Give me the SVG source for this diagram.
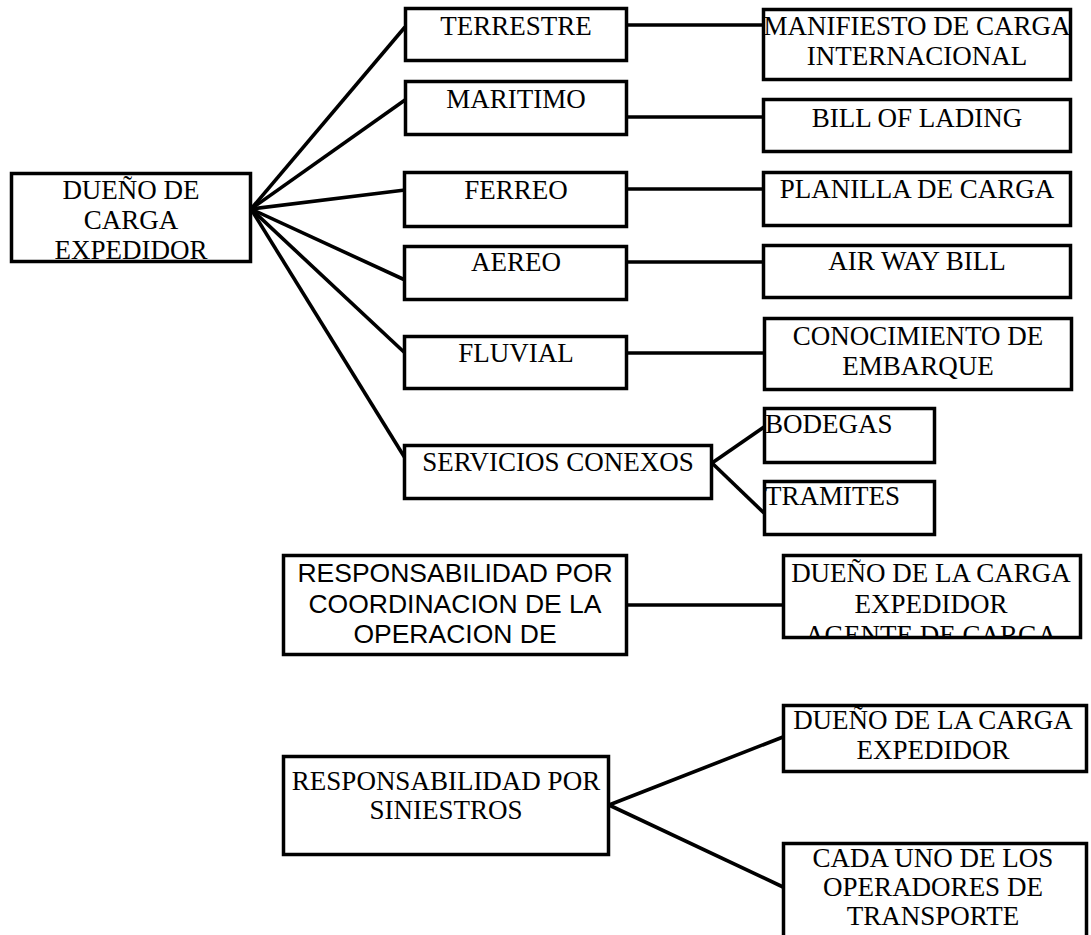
<svg xmlns="http://www.w3.org/2000/svg" width="1091" height="935" viewBox="0 0 1091 935">
  <style>
    .box { fill: #fff; stroke: #000; stroke-width: 3.5; }
    .link { stroke: #000; stroke-width: 3.6; fill: none; stroke-linecap: butt; }
    .t { font-family: "Liberation Serif", "Times New Roman", serif; font-size: 27px; fill: #000; text-anchor: middle; }
    .ts { font-family: "Liberation Sans", Arial, sans-serif; font-size: 26.5px; fill: #000; text-anchor: middle; }
    .left { text-anchor: start; }
  </style>
  <defs>
    <clipPath id="clip-agente">
      <rect x="785" y="557" width="294" height="79"/>
    </clipPath>
  </defs>

  <!-- connectors -->
  <g id="connectors">
    <line class="link" x1="251" y1="209" x2="405" y2="27"/>
    <line class="link" x1="251" y1="209" x2="405" y2="100"/>
    <line class="link" x1="251" y1="209" x2="405" y2="190"/>
    <line class="link" x1="251" y1="209" x2="405" y2="280"/>
    <line class="link" x1="251" y1="209" x2="405" y2="353"/>
    <line class="link" x1="251" y1="209" x2="405" y2="458"/>
    <line class="link" x1="627" y1="25" x2="763" y2="25"/>
    <line class="link" x1="627" y1="117" x2="763" y2="117"/>
    <line class="link" x1="627" y1="189" x2="763" y2="189"/>
    <line class="link" x1="627" y1="262" x2="763" y2="262"/>
    <line class="link" x1="627" y1="353" x2="764" y2="353"/>
    <line class="link" x1="712" y1="463" x2="764" y2="427"/>
    <line class="link" x1="712" y1="463" x2="764" y2="513"/>
    <line class="link" x1="627" y1="605" x2="783" y2="605"/>
    <line class="link" x1="609" y1="805" x2="783" y2="737"/>
    <line class="link" x1="609" y1="805" x2="783" y2="887"/>
  </g>

  <g id="n-dueno-carga">
    <rect class="box" x="11.5" y="173.5" width="239" height="88"/>
    <text class="t" x="131" y="199">DUEÑO DE</text>
    <text class="t" x="131" y="229">CARGA</text>
    <text class="t" x="131" y="259">EXPEDIDOR</text>
  </g>

  <g id="n-terrestre">
    <rect class="box" x="405.5" y="8.5" width="221" height="52"/>
    <text class="t" x="516" y="35">TERRESTRE</text>
  </g>
  <g id="n-maritimo">
    <rect class="box" x="405.5" y="81.5" width="221" height="53"/>
    <text class="t" x="516" y="108">MARITIMO</text>
  </g>
  <g id="n-ferreo">
    <rect class="box" x="404.5" y="172.5" width="222" height="54"/>
    <text class="t" x="516" y="199">FERREO</text>
  </g>
  <g id="n-aereo">
    <rect class="box" x="404.5" y="246.5" width="222" height="53"/>
    <text class="t" x="516" y="271">AEREO</text>
  </g>
  <g id="n-fluvial">
    <rect class="box" x="404.5" y="336.5" width="222" height="52"/>
    <text class="t" x="516" y="362">FLUVIAL</text>
  </g>
  <g id="n-servicios">
    <rect class="box" x="404.5" y="445.5" width="307" height="53"/>
    <text class="t" x="558" y="471">SERVICIOS CONEXOS</text>
  </g>

  <g id="n-manifiesto">
    <rect class="box" x="763.5" y="9.5" width="307" height="70"/>
    <text class="t" x="917" y="35">MANIFIESTO DE CARGA</text>
    <text class="t" x="917" y="65">INTERNACIONAL</text>
  </g>
  <g id="n-bill">
    <rect class="box" x="763.5" y="99.5" width="307" height="52"/>
    <text class="t" x="917" y="127">BILL OF LADING</text>
  </g>
  <g id="n-planilla">
    <rect class="box" x="763.5" y="172.5" width="307" height="53"/>
    <text class="t" x="917" y="198">PLANILLA DE CARGA</text>
  </g>
  <g id="n-airway">
    <rect class="box" x="763.5" y="245.5" width="307" height="52"/>
    <text class="t" x="917" y="270">AIR WAY BILL</text>
  </g>
  <g id="n-conocimiento">
    <rect class="box" x="764.5" y="318.5" width="307" height="71"/>
    <text class="t" x="918" y="345">CONOCIMIENTO DE</text>
    <text class="t" x="918" y="375">EMBARQUE</text>
  </g>
  <g id="n-bodegas">
    <rect class="box" x="764.5" y="408.5" width="170" height="54"/>
    <text class="t left" x="765" y="433">BODEGAS</text>
  </g>
  <g id="n-tramites">
    <rect class="box" x="764.5" y="481.5" width="170" height="53"/>
    <text class="t left" x="765" y="505">TRAMITES</text>
  </g>

  <g id="n-resp-coordinacion">
    <rect class="box" x="283.5" y="555.5" width="343" height="99"/>
    <text class="ts" x="455" y="582">RESPONSABILIDAD POR</text>
    <text class="ts" x="455" y="613">COORDINACION DE LA</text>
    <text class="ts" x="455" y="643">OPERACION DE</text>
  </g>
  <g id="n-coord-responsables">
    <rect class="box" x="783.5" y="555.5" width="297" height="82"/>
    <g clip-path="url(#clip-agente)">
      <text class="t" x="931" y="582">DUEÑO DE LA CARGA</text>
      <text class="t" x="931" y="613">EXPEDIDOR</text>
      <text class="t" x="931" y="644">AGENTE DE CARGA</text>
    </g>
  </g>

  <g id="n-resp-siniestros">
    <rect class="box" x="283.5" y="756.5" width="325" height="98"/>
    <text class="t" x="446" y="790">RESPONSABILIDAD POR</text>
    <text class="t" x="446" y="819">SINIESTROS</text>
  </g>
  <g id="n-dueno-expedidor">
    <rect class="box" x="783.5" y="705.5" width="303" height="66"/>
    <text class="t" x="933" y="729">DUEÑO DE LA CARGA</text>
    <text class="t" x="933" y="759">EXPEDIDOR</text>
  </g>
  <g id="n-operadores">
    <rect class="box" x="783.5" y="843.5" width="303" height="110"/>
    <text class="t" x="933" y="867">CADA UNO DE LOS</text>
    <text class="t" x="933" y="896">OPERADORES DE</text>
    <text class="t" x="933" y="925">TRANSPORTE</text>
  </g>
</svg>
